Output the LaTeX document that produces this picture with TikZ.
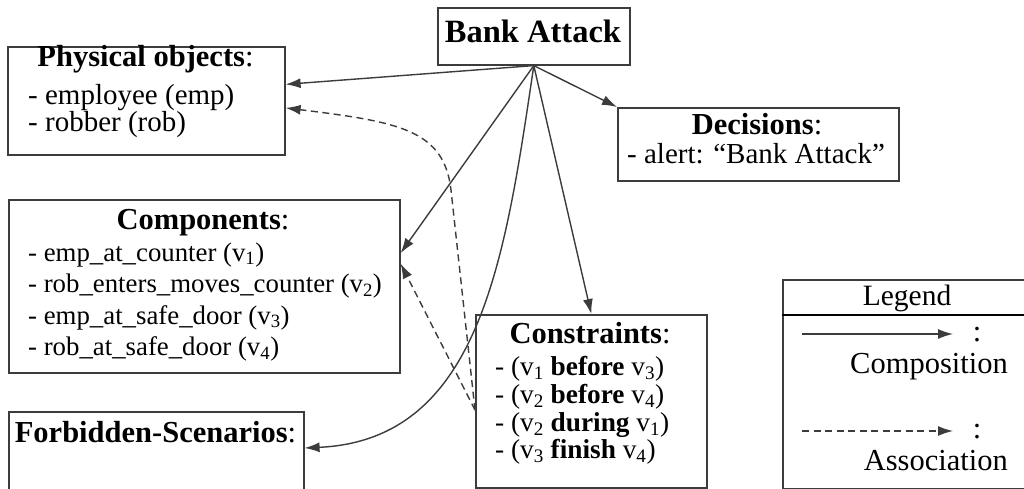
\documentclass[tikz,border=0pt]{standalone}
\usepackage{fontspec}
\setmainfont{Liberation Serif}
\usetikzlibrary{arrows.meta,calc}
\definecolor{ln}{HTML}{3c3c3c}
\tikzset{
  box/.style={draw=ln, line width=1.6pt, inner sep=0pt, anchor=north west},
  txt/.style={inner sep=0pt, font=\fontsize{29}{32}\selectfont},
  ttl/.style={inner sep=0pt, anchor=base, font=\fontsize{30.5}{32}\selectfont},
  itm/.style={txt, anchor=base west},
  citm/.style={itm, font=\fontsize{26.8}{32}\selectfont},
  kitm/.style={itm, font=\fontsize{27.3}{32}\selectfont},
  legtxt/.style={inner sep=0pt, anchor=base east, font=\fontsize{30.5}{32}\selectfont},
  compo/.style={draw=ln, line width=1.4pt, -{Latex[length=15pt,width=10pt]}},
  assoc/.style={compo, dash pattern=on 7pt off 4.5pt},
}
\begin{document}
\begin{tikzpicture}[x=1pt,y=-1pt]
\clip (0,0) rectangle (1024,489);
\fill[white] (0,0) rectangle (1024,489);
% boxes
\node[box, minimum width=192pt, minimum height=57pt] (bank) at (437,7) {};
\node[box, minimum width=277pt, minimum height=108pt] (phys) at (7,46) {};
\node[box, minimum width=391pt, minimum height=173pt] (comp) at (8,199) {};
\node[box, minimum width=295pt, minimum height=110pt] (forb) at (8,411) {};
\node[box, minimum width=281pt, minimum height=73pt] (dec) at (617,107) {};
\node[box, minimum width=231pt, minimum height=173pt] (cons) at (475,314) {};
\node[box, minimum width=250pt, minimum height=209pt] (leg) at (782,279) {};
\draw[black, line width=2pt] ($(leg.north west)+(0,36)$) -- ($(leg.north east)+(0,36)$);
% texts
\node[ttl, font=\fontsize{32.5}{34}\selectfont] (bankt) at (533,43) {\textbf{Bank Attack}};
\node[ttl] (physt) at (145.5,67) {\textbf{Physical objects}:};
\node[itm] (phys1) at (28,105) {- employee (emp)};
\node[itm] (phys2) at (28,132) {- robber (rob)};
\node[ttl] (compt) at (203,229) {\textbf{Components}:};
\node[citm] (comp1) at (28,261) {- emp\_at\_counter (v\textsubscript{1})};
\node[citm] (comp2) at (28,292.5) {- rob\_enters\_moves\_counter (v\textsubscript{2})};
\node[citm] (comp3) at (28,324) {- emp\_at\_safe\_door (v\textsubscript{3})};
\node[citm] (comp4) at (28,355.5) {- rob\_at\_safe\_door (v\textsubscript{4})};
\node[ttl] (forbt) at (155.5,442) {\textbf{Forbidden-Scenarios}:};
\node[ttl] (dect) at (757,135) {\textbf{Decisions}:};
\node[itm] (dec1) at (627,164) {- alert: “Bank Attack”};
\node[ttl] (const) at (590,343) {\textbf{Constraints}:};
\node[kitm] (cons1) at (495,375) {- (v\textsubscript{1} \textbf{before} v\textsubscript{3})};
\node[kitm] (cons2) at (495,403) {- (v\textsubscript{2} \textbf{before} v\textsubscript{4})};
\node[kitm] (cons3) at (495,431) {- (v\textsubscript{2} \textbf{during} v\textsubscript{1})};
\node[kitm] (cons4) at (495,458) {- (v\textsubscript{3} \textbf{finish} v\textsubscript{4})};
\node[ttl, font=\fontsize{29.5}{32}\selectfont] (legt) at (907,305) {Legend};
\node[ttl] (col1) at (977,341) {:};
\node[legtxt] (legc) at (1008,373) {Composition};
\node[ttl] (col2) at (977,438) {:};
\node[legtxt] (lega) at (1008,470) {Association};
% connector end points
\coordinate (physA) at ($(phys.north east)!0.35!(phys.south east)$);
\coordinate (physB) at ($(phys.north east)!0.565!(phys.south east)$);
\coordinate (compA) at ($(comp.north east)!0.31!(comp.south east)$);
\coordinate (compB) at ($(comp.north east)!0.37!(comp.south east)$);
\coordinate (forbA) at ($(forb.north east)+(0,37)$);
\coordinate (consA) at ($(cons.north west)+(0,96)$);
% composition connectors
\draw[compo] (bank.south) -- (physA);
\draw[compo] (bank.south) -- (dec.north west);
\draw[compo] (bank.south) -- (compA);
\draw[compo] (bank.south) -- (cons.north);
\draw[compo] (bank.south) .. controls (505,260) and (480,440) .. (forbA);
% association connectors
\draw[assoc] (consA) -- (compB);
\draw[assoc] (consA) -- (451,190) .. controls (444,130) and (400,122) .. (physB);
% legend samples
\coordinate (l1a) at (802,334);
\coordinate (l1b) at (953,334);
\coordinate (l2a) at (802,431);
\coordinate (l2b) at (953,431);
\draw[compo] (l1a) -- (l1b);
\draw[assoc] (l2a) -- (l2b);
\end{tikzpicture}
\end{document}
